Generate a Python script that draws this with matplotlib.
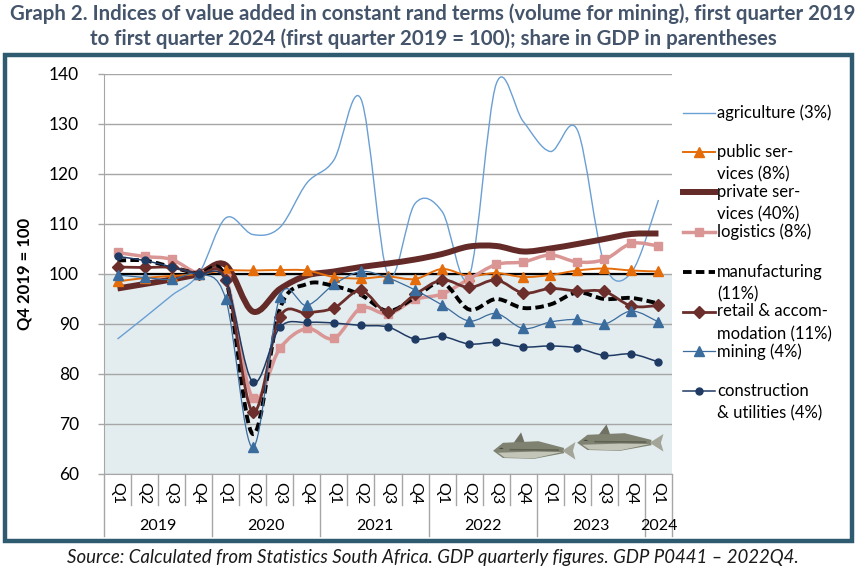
import numpy as np
import matplotlib
matplotlib.use("Agg")
import matplotlib.pyplot as plt
from matplotlib.path import Path
from matplotlib.patches import PathPatch, Rectangle, Polygon
from matplotlib.lines import Line2D
import matplotlib.transforms as mtransforms

plt.rcParams['font.family'] = ['Lato', 'DejaVu Sans']

# data (index, Q4 2019 = 100)
quarters = ['Q1', 'Q2', 'Q3', 'Q4'] * 5 + ['Q1']
years = ['2019', '2020', '2021', '2022', '2023', '2024']

agriculture = [87.0, 91.3, 95.7, 100.0, 111.2, 107.9, 109.3, 118.2, 122.8, 135.0, 99.8,
               114.1, 112.5, 99.5, 138.0, 130.5, 124.5, 128.8, 102.0, 100.3, 114.8]
public = [98.5, 99.2, 99.6, 100.0, 100.7, 100.7, 100.8, 100.7, 99.4, 99.1, 99.5,
          99.0, 101.0, 99.6, 100.2, 99.4, 99.8, 100.7, 101.1, 100.7, 100.5]
private = [97.1, 98.0, 98.9, 100.0, 101.8, 92.5, 97.0, 99.7, 100.5, 101.4, 102.1,
           102.9, 104.0, 105.5, 105.6, 104.5, 105.1, 106.0, 107.0, 108.0, 108.1]
logistics = [104.3, 103.5, 102.9, 100.0, 99.2, 75.1, 85.1, 89.1, 87.1, 93.2, 92.0,
             94.9, 96.0, 99.0, 101.9, 102.4, 103.8, 102.4, 102.9, 106.1, 105.6]
manufacturing = [102.7, 102.7, 101.4, 100.0, 99.0, 68.0, 93.0, 98.0, 97.6, 95.8, 92.6,
                 95.3, 98.3, 92.9, 95.0, 93.2, 93.9, 96.3, 95.0, 95.2, 94.1]
retail = [101.4, 101.3, 101.3, 100.0, 98.8, 72.4, 91.4, 92.2, 93.2, 96.7, 92.3,
          95.9, 98.8, 97.3, 98.8, 96.2, 97.1, 96.6, 96.5, 93.6, 93.7]
mining = [99.8, 99.3, 98.9, 100.0, 95.0, 65.3, 95.4, 93.7, 97.9, 100.5, 99.2,
          96.8, 93.8, 90.6, 92.1, 89.1, 90.4, 90.9, 90.0, 92.6, 90.4]
construction = [103.5, 102.7, 101.4, 100.0, 98.7, 78.4, 89.3, 90.3, 90.2, 89.7, 89.4,
                87.0, 87.5, 86.0, 86.3, 85.4, 85.6, 85.2, 83.7, 84.0, 82.4]
base = [100.0] * 21

W, H = 866, 569
fig = plt.figure(figsize=(W / 100, H / 100), dpi=100)

def fx(px):
    return px / W

def fy(py):
    return 1 - py / H

# outer frame
fig.patches.append(Rectangle((fx(5), fy(541)), fx(852) - fx(5), fy(55) - fy(541),
                             transform=fig.transFigure, fill=False,
                             edgecolor='#2E5B70', linewidth=3.2))

title_color = '#44546A'
fig.text(0.5, fy(14), 'Graph 2. Indices of value added in constant rand terms (volume for mining), first quarter 2019',
         ha='center', va='center', fontsize=14.7, fontweight='bold', color=title_color)
fig.text(0.5, fy(39), 'to first quarter 2024 (first quarter 2019 = 100); share in GDP in parentheses',
         ha='center', va='center', fontsize=14.7, fontweight='bold', color=title_color)
fig.text(0.5, fy(557), 'Source: Calculated from Statistics South Africa. GDP quarterly figures. GDP P0441 \u2013 2022Q4.',
         ha='center', va='center', fontsize=13.4, style='italic', color='#1a1a1a')

ax = fig.add_axes([fx(104), fy(474), fx(672) - fx(104), fy(74) - fy(474)])
x = np.arange(len(quarters))
ax.set_xlim(-0.5, len(quarters) - 0.5)
ax.set_ylim(60, 140)
ax.set_yticks(np.arange(60, 141, 10))
ax.set_xticks([])
ax.yaxis.grid(True, color='#A6A6A6', linewidth=1.0)
ax.set_axisbelow(True)
for s in ['top', 'right']:
    ax.spines[s].set_visible(False)
ax.spines['left'].set_color('#A6A6A6')
ax.spines['bottom'].set_color('#A6A6A6')
ax.tick_params(axis='y', length=4, width=1, color='#A6A6A6', pad=14, labelsize=12.5, labelcolor='black')
ax.set_ylabel('Q4 2019 = 100', fontsize=12, fontweight='bold', labelpad=12)

# shaded area under 100
ax.fill_between([-0.5, len(quarters) - 0.5], 60, 100, color='#E3ECEF', zorder=0.5, linewidth=0)


def smooth_path(xs, ys):
    pts = np.column_stack([xs, ys]).astype(float)
    n = len(pts)
    verts = [pts[0]]
    codes = [Path.MOVETO]
    for i in range(n - 1):
        p0 = pts[i - 1] if i > 0 else pts[i]
        p1 = pts[i]
        p2 = pts[i + 1]
        p3 = pts[i + 2] if i + 2 < n else pts[i + 1]
        c1 = p1 + (p2 - p0) / 6.0
        c2 = p2 - (p3 - p1) / 6.0
        verts += [c1, c2, p2]
        codes += [Path.CURVE4] * 3
    return Path(verts, codes)


def draw(ys, color, lw, marker=None, ms=0, ls='-', z=3):
    patch = PathPatch(smooth_path(x, ys), fill=False, edgecolor=color, linewidth=lw,
                      linestyle=ls, zorder=z, capstyle='butt', joinstyle='round')
    ax.add_patch(patch)
    if marker:
        ax.plot(x, ys, linestyle='none', marker=marker, markersize=ms, color=color,
                markeredgecolor=color, zorder=z + 0.1, clip_on=False)


ax.plot(x, base, color='black', linewidth=1.6, zorder=2.9)
draw(agriculture, '#6A9FD4', 1.0, z=3)
draw(public, '#E46C0A', 1.4, '^', 7.5, z=3.2)
draw(private, '#632A27', 4.3, z=3.1)
draw(logistics, '#D99694', 2.5, 's', 6, z=3.3)
draw(manufacturing, 'black', 2.8, ls=(0, (2.2, 1.1)), z=3.4)
draw(retail, '#6B2E2B', 2.0, 'D', 6.5, z=3.5)
draw(mining, '#3A6C9E', 0.9, '^', 7, z=3.6)
draw(construction, '#1F3B64', 1.1, 'o', 5, z=3.7)

# multi-level category axis
tr = mtransforms.blended_transform_factory(ax.transData, ax.transAxes)
for i, q in enumerate(quarters):
    ax.text(i, -0.048, q, transform=tr, rotation=270, ha='center', va='center',
            fontsize=11.5, clip_on=False)
for i in range(len(quarters) + 1):
    b = i - 0.5
    bottom = -0.155 if i % 4 == 0 or i == len(quarters) else -0.078
    ax.add_line(Line2D([b, b], [0, bottom], transform=tr, color='#A6A6A6',
                       linewidth=1.0, clip_on=False))
for k, yr in enumerate(years):
    if k < 5:
        cx = 4 * k + 1.5
    else:
        cx = 20
    ax.text(cx, -0.129, yr, transform=tr, ha='center', va='center', fontsize=11.5,
            clip_on=False)


# fish decoration
def fish(x0, y0, length, hgt):
    t = ax.transAxes
    body = [(x0, y0), (x0 + 0.12 * length, y0 + 0.5 * hgt), (x0 + 0.55 * length, y0 + 0.6 * hgt),
            (x0 + 0.86 * length, y0 + 0.18 * hgt), (x0 + 0.86 * length, y0 - 0.15 * hgt),
            (x0 + 0.5 * length, y0 - 0.5 * hgt), (x0 + 0.12 * length, y0 - 0.45 * hgt)]
    ax.add_patch(Polygon(body, closed=True, transform=t, facecolor='#7F8270',
                         edgecolor='none', zorder=1, clip_on=False))
    belly = [(x0 + 0.06 * length, y0 - 0.12 * hgt), (x0 + 0.5 * length, y0 - 0.05 * hgt),
             (x0 + 0.84 * length, y0 - 0.08 * hgt), (x0 + 0.5 * length, y0 - 0.47 * hgt),
             (x0 + 0.14 * length, y0 - 0.42 * hgt)]
    ax.add_patch(Polygon(belly, closed=True, transform=t, facecolor='#C3C5B8',
                         edgecolor='none', zorder=1.05))
    stripe = [(x0 + 0.2 * length, y0 + 0.12 * hgt), (x0 + 0.8 * length, y0 + 0.1 * hgt),
              (x0 + 0.8 * length, y0 + 0.0 * hgt), (x0 + 0.2 * length, y0 + 0.02 * hgt)]
    ax.add_patch(Polygon(stripe, closed=True, transform=t, facecolor='#5E6152',
                         edgecolor='none', zorder=1.1))
    tail = [(x0 + 0.84 * length, y0), (x0 + length, y0 + 0.55 * hgt), (x0 + 0.97 * length, y0),
            (x0 + length, y0 - 0.55 * hgt)]
    ax.add_patch(Polygon(tail, closed=True, transform=t, facecolor='#A3A598',
                         edgecolor='none', zorder=1))
    fin = [(x0 + 0.25 * length, y0 + 0.5 * hgt), (x0 + 0.34 * length, y0 + 1.15 * hgt),
           (x0 + 0.38 * length, y0 + 0.55 * hgt)]
    ax.add_patch(Polygon(fin, closed=True, transform=t, facecolor='#6F7262',
                         edgecolor='none', zorder=1))
    eye = [(x0 + 0.07 * length, y0 + 0.12 * hgt), (x0 + 0.1 * length, y0 + 0.2 * hgt),
           (x0 + 0.13 * length, y0 + 0.12 * hgt)]
    ax.add_patch(Polygon(eye, closed=True, transform=t, facecolor='#3E4036',
                         edgecolor='none', zorder=1.2))


fish(0.685, 0.058, 0.145, 0.04)
fish(0.833, 0.078, 0.152, 0.04)

# legend drawn by hand to mimic the wrapped entries
leg_items = [
    ('agriculture (3%)', '#6A9FD4', 1.0, '-', None, 0),
    ('public ser-\nvices (8%)', '#E46C0A', 1.4, '-', '^', 7.5),
    ('private ser-\nvices (40%)', '#632A27', 4.3, '-', None, 0),
    ('logistics (8%)', '#D99694', 2.5, '-', 's', 6),
    ('manufacturing\n(11%)', 'black', 2.8, (0, (2.2, 1.1)), None, 0),
    ('retail & accom-\nmodation (11%)', '#6B2E2B', 2.0, '-', 'D', 6.5),
    ('mining (4%)', '#3A6C9E', 0.9, '-', '^', 7),
    ('construction\n& utilities (4%)', '#1F3B64', 1.1, '-', 'o', 5),
]
for k, (lab, col, lw, ls, mk, ms) in enumerate(leg_items):
    py = 112.5 + 39.8 * k
    fig.add_artist(Line2D([fx(683), fx(715)], [fy(py), fy(py)], transform=fig.transFigure,
                          color=col, linewidth=lw, linestyle=ls))
    if mk:
        fig.add_artist(Line2D([fx(699)], [fy(py)], transform=fig.transFigure, color=col,
                              marker=mk, markersize=ms, linestyle='none'))
    for j, line in enumerate(lab.split('\n')):
        fig.text(fx(717), fy(py + 22.5 * j), line, ha='left', va='center', fontsize=12)

fig.savefig('out.png', dpi=100)
